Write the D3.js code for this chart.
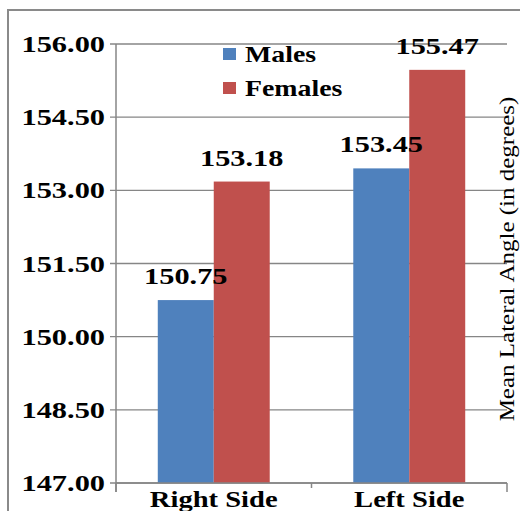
<!DOCTYPE html>
<html>
<head>
<meta charset="utf-8">
<script src="https://cdn.jsdelivr.net/npm/d3@7/dist/d3.min.js"></script>
<style>
  body { margin: 0; background: #fff; }
</style>
</head>
<body>
<script>
  // data
  var categories = ["Right Side", "Left Side"];
  var seriesNames = ["Males", "Females"];
  var males = [150.75, 153.45];
  var females = [153.18, 155.47];
  var yTicks = [147, 148.5, 150, 151.5, 153, 154.5, 156];
  var colors = ["#4F81BD", "#C0504D"];

  var W = 520, H = 511;
  var plot = { left: 116, right: 507, top: 44, bottom: 483 };
  var gridColor = "#868686";
  var serif = "Liberation Serif";

  var svg = d3.select("body").append("svg")
    .attr("width", W).attr("height", H)
    .attr("font-family", serif);

  // stretch text horizontally (the original is a widened bitmap)
  function stretch(sel, k) {
    sel.each(function () {
      var len = this.getComputedTextLength();
      d3.select(this).attr("textLength", len * k).attr("lengthAdjust", "spacingAndGlyphs");
    });
  }

  // outer frame
  svg.append("rect")
    .attr("x", 8).attr("y", 10).attr("width", 600).attr("height", 600)
    .attr("fill", "none").attr("stroke", "#8a8a8a").attr("stroke-width", 2);

  /***** Scales *****/
  var x = d3.scaleBand().domain(categories).range([plot.left, plot.right])
    .paddingInner(0.4274).paddingOuter(0.2137);
  var xs = d3.scaleBand().domain(seriesNames).range([0, x.bandwidth()]);
  var y = d3.scaleLinear().domain([147, 156]).range([plot.bottom, plot.top]);

  // gridlines
  svg.append("g").selectAll("line").data(yTicks).join("line")
    .attr("x1", plot.left - 6).attr("x2", plot.right)
    .attr("y1", d => y(d)).attr("y2", d => y(d))
    .attr("stroke", gridColor).attr("stroke-width", 1.3);

  // y axis labels
  svg.append("g").selectAll("text").data(yTicks).join("text")
    .attr("x", 105).attr("y", d => y(d) + 8)
    .attr("text-anchor", "end")
    .attr("font-size", 23).attr("font-weight", "bold")
    .text(d => d.toFixed(2))
    .call(stretch, 1.32);

  // bars
  var rows = categories.map(function (c, i) {
    return [{ cat: c, s: "Males", v: males[i], c: colors[0] },
            { cat: c, s: "Females", v: females[i], c: colors[1] }];
  });
  var flat = d3.merge(rows);

  svg.append("g").selectAll("rect").data(flat).join("rect")
    .attr("x", d => x(d.cat) + xs(d.s))
    .attr("width", xs.bandwidth())
    .attr("y", d => y(d.v))
    .attr("height", d => y(147) - y(d.v))
    .attr("fill", d => d.c);

  // axis lines
  svg.append("line")
    .attr("x1", plot.left).attr("x2", plot.left)
    .attr("y1", plot.top).attr("y2", plot.bottom + 9)
    .attr("stroke", gridColor).attr("stroke-width", 1.5);
  svg.append("line")
    .attr("x1", plot.left).attr("x2", plot.right)
    .attr("y1", plot.bottom).attr("y2", plot.bottom)
    .attr("stroke", gridColor).attr("stroke-width", 1.5);
  var xEdges = [plot.left, x(categories[1]) - x.step() * x.paddingInner() / 2, plot.right];
  svg.append("g").selectAll("line").data(xEdges).join("line")
    .attr("x1", d => d).attr("x2", d => d)
    .attr("y1", plot.bottom).attr("y2", (d, i) => plot.bottom + (i === 1 ? 5 : 9))
    .attr("stroke", gridColor).attr("stroke-width", 1.5);

  // data labels
  svg.append("g").selectAll("text").data(flat).join("text")
    .attr("x", d => x(d.cat) + xs(d.s) + xs.bandwidth() / 2)
    .attr("y", d => y(d.v) - 16)
    .attr("text-anchor", "middle")
    .attr("font-size", 23.5).attr("font-weight", "bold")
    .text(d => d.v.toFixed(2))
    .call(stretch, 1.29);

  // category labels
  svg.append("g").selectAll("text").data(categories).join("text")
    .attr("x", d => x(d) + x.bandwidth() / 2)
    .attr("y", 507)
    .attr("text-anchor", "middle")
    .attr("font-size", 24).attr("font-weight", "bold")
    .text(d => d)
    .call(stretch, 1.19);

  // legend
  var legend = svg.append("g").selectAll("g").data(seriesNames).join("g")
    .attr("transform", (d, i) => "translate(223," + (48 + i * 34) + ")");
  legend.append("rect").attr("width", 13).attr("height", 12)
    .attr("fill", (d, i) => colors[i]);
  legend.append("text").attr("x", 22).attr("y", 14)
    .attr("font-size", 24).attr("font-weight", "bold")
    .text(d => d)
    .call(stretch, 1.16);

  // y axis title (right side)
  svg.append("text")
    .attr("transform", "translate(514,259) rotate(-90)")
    .attr("text-anchor", "middle")
    .attr("font-size", 21)
    .text("Mean Lateral Angle (in degrees)")
    .call(stretch, 1.19);
</script>
</body>
</html>
